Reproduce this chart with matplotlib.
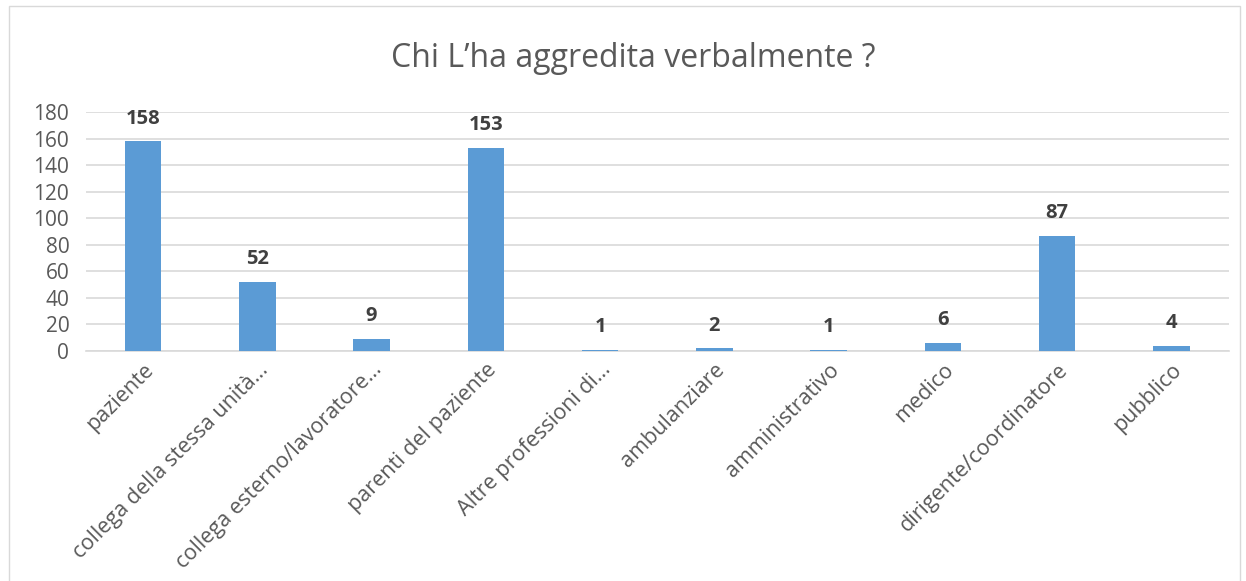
import matplotlib.pyplot as plt
from matplotlib.patches import Rectangle

# data
categories = ['paziente', 'collega della stessa unità…', 'collega esterno/lavoratore…',
              'parenti del paziente', 'Altre professioni di…', 'ambulanziare',
              'amministrativo', 'medico', 'dirigente/coordinatore', 'pubblico']
values = [158, 52, 9, 153, 1, 2, 1, 6, 87, 4]
yticks = [0, 20, 40, 60, 80, 100, 120, 140, 160, 180]

plt.rcParams['font.family'] = ['Open Sans', 'DejaVu Sans']
txt = '#595959'

fig = plt.figure(figsize=(12.46, 5.81), dpi=100)
ax = fig.add_axes([0.069, 0.396, 0.917, 0.411])

x = range(len(categories))
ax.bar(x, values, width=0.32, color='#5B9BD5', zorder=3)
for i, v in zip(x, values):
    ax.annotate(str(v), (i, v), xytext=(0, 9), textcoords='offset points',
                ha='center', va='bottom', fontsize=14.5, fontweight='bold', color='#404040')

ax.set_ylim(0, 180)
ax.set_xlim(-0.5, len(categories) - 0.5)
ax.set_yticks(yticks)
ax.yaxis.grid(True, color='#D9D9D9', linewidth=1.2, zorder=0)
ax.tick_params(axis='both', length=0, labelsize=15, colors=txt)
ax.tick_params(axis='y', pad=12)
ax.set_xticks(list(x))
ax.set_xticklabels(categories, rotation=45, ha='right', rotation_mode='anchor')
ax.tick_params(axis='x', pad=6, labelsize=15.5)
for s in ['top', 'right', 'left']:
    ax.spines[s].set_visible(False)
ax.spines['bottom'].set_color('#D9D9D9')
ax.spines['bottom'].set_linewidth(1.2)

fig.text(0.508, 0.90, 'Chi L’ha aggredita verbalmente ?', ha='center', va='center',
         fontsize=23, color=txt)

fig.patches.append(Rectangle((0.007, -0.01), 0.988, 1.0, transform=fig.transFigure,
                             fill=False, edgecolor='#D9D9D9', linewidth=1))

fig.savefig('out.png', dpi=100)
